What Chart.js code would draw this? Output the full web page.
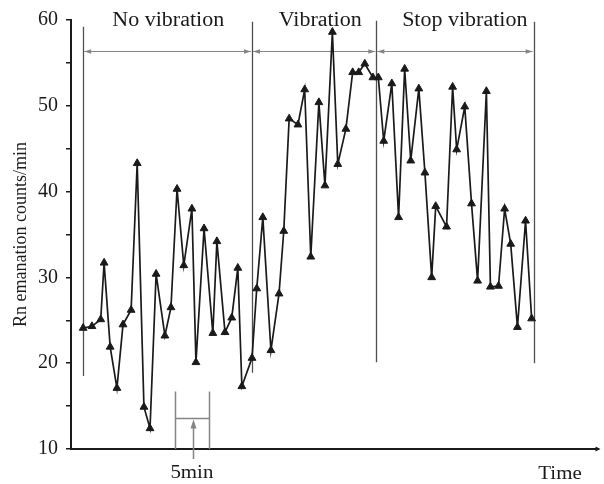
<!DOCTYPE html>
<html>
<head>
<meta charset="utf-8">
<script src="https://cdn.jsdelivr.net/npm/chart.js@4/dist/chart.umd.min.js"></script>
<style>
  body { margin: 0; background: #fff; }
  canvas { display: block; }
</style>
</head>
<body>
<canvas id="chart" width="604" height="484"></canvas>
<script>
// time of each count (minutes from the start)
const timeMin = [
  0.0, 1.3, 2.6, 3.1, 4.0, 5.0, 5.9, 7.1, 8.0, 9.0,
  9.9, 10.8, 12.1, 13.0, 13.9, 14.9, 16.1, 16.7, 17.9, 19.2,
  19.8, 21.0, 22.0, 22.9, 23.5, 25.0, 25.7, 26.6, 27.8, 29.0,
  29.7, 30.5, 31.8, 32.8, 33.7, 34.9, 35.8, 36.9, 37.7, 38.9,
  39.9, 40.8, 41.7, 42.9, 43.7, 44.5, 45.7, 46.7, 47.6, 48.5,
  49.7, 50.6, 51.6, 52.2, 53.8, 54.7, 55.3, 56.5, 57.5, 58.4,
  59.7, 60.3, 61.5, 62.4, 63.3, 64.3, 65.5, 66.4
];
// Rn emanation counts/min
const counts = [
  24.1, 24.3, 25.1, 31.7, 21.9, 17.1, 24.5, 26.2, 43.3, 14.9,
  12.4, 30.4, 23.2, 26.5, 40.3, 31.4, 38.0, 20.1, 35.7, 23.5,
  34.2, 23.6, 25.3, 31.1, 17.3, 20.6, 28.7, 37.0, 21.5, 28.1,
  35.4, 48.5, 47.8, 51.9, 32.4, 50.4, 40.7, 58.6, 43.2, 47.3,
  53.9, 53.9, 54.9, 53.3, 53.3, 45.9, 52.6, 37.0, 54.3, 43.6,
  52.0, 42.2, 30.0, 38.3, 35.9, 52.2, 44.9, 49.9, 38.6, 29.6,
  51.7, 28.9, 29.0, 38.0, 33.9, 24.2, 36.6, 25.2
];
const yTickLabels = [10, 20, 30, 40, 50, 60];

// phases of the experiment
const phaseNames = ['No vibration', 'Vibration', 'Stop vibration'];
const phaseLabelX = [12.6, 35.1, 56.5];
const phaseBounds = [0.0, 25.0, 43.4, 66.7];
const boundTop = [59.2, 59.8, 59.9, 59.8];
const boundBottom = [18.5, 18.9, 20.1, 20.0];
const phaseArrowY = 56.4;

// 5 minute scale bar
const barFrom = 13.6, barTo = 18.6;
const barTop = 16.7, barMid = 13.6;

const serif = "'Liberation Serif', 'Times New Roman', serif";
const ink = '#1a1a1a';
const gray = '#858585';

function arrowHead(ctx, x, y, dx, dy, len, half) {
  // tip at (x,y), pointing along (dx,dy)
  ctx.beginPath();
  ctx.moveTo(x, y);
  ctx.lineTo(x - dx * len - dy * half, y - dy * len - dx * half);
  ctx.lineTo(x - dx * len + dy * half, y - dy * len + dx * half);
  ctx.closePath();
  ctx.fill();
}

function stretchedText(ctx, text, x, y, size) {
  ctx.save();
  ctx.translate(x, y);
  ctx.scale(1.1, 1);
  ctx.font = size + 'px ' + serif;
  ctx.textAlign = 'center';
  ctx.textBaseline = 'alphabetic';
  ctx.fillStyle = ink;
  ctx.fillText(text, 0, 0);
  ctx.restore();
}

const notes = {
  id: 'notes',
  beforeDatasetsDraw(chart) {
    const ctx = chart.ctx;
    const xs = chart.scales.x, ys = chart.scales.y;
    ctx.save();
    // phase boundaries
    ctx.strokeStyle = '#505050';
    ctx.lineWidth = 1.3;
    phaseBounds.forEach((b, i) => {
      const px = Math.round(xs.getPixelForValue(b)) + 0.5;
      ctx.beginPath();
      ctx.moveTo(px, ys.getPixelForValue(boundTop[i]));
      ctx.lineTo(px, ys.getPixelForValue(boundBottom[i]));
      ctx.stroke();
    });
    // double arrows for each phase
    const ay = Math.round(ys.getPixelForValue(phaseArrowY)) + 0.5;
    ctx.strokeStyle = gray;
    ctx.fillStyle = gray;
    ctx.lineWidth = 1.2;
    for (let i = 0; i < phaseNames.length; i++) {
      const a = xs.getPixelForValue(phaseBounds[i]) + 1;
      const b = xs.getPixelForValue(phaseBounds[i + 1]) - 1;
      ctx.beginPath();
      ctx.moveTo(a, ay);
      ctx.lineTo(b, ay);
      ctx.stroke();
      arrowHead(ctx, a, ay, -1, 0, 7, 2.2);
      arrowHead(ctx, b, ay, 1, 0, 7, 2.2);
    }
    // 5 min scale bar
    const l = Math.round(xs.getPixelForValue(barFrom)) + 0.5;
    const r = Math.round(xs.getPixelForValue(barTo)) + 0.5;
    const t = ys.getPixelForValue(barTop);
    const base = ys.getPixelForValue(10);
    const m = Math.round(ys.getPixelForValue(barMid)) + 0.5;
    const c = Math.round((l + r) / 2) + 0.5;
    ctx.lineWidth = 1.5;
    ctx.beginPath();
    ctx.moveTo(l, t); ctx.lineTo(l, base);
    ctx.moveTo(r, t); ctx.lineTo(r, base);
    ctx.moveTo(l, m); ctx.lineTo(r, m);
    ctx.moveTo(c, base + 10); ctx.lineTo(c, m + 6);
    ctx.stroke();
    arrowHead(ctx, c, m + 1, 0, -1, 9, 3);
    ctx.restore();
  },
  afterDraw(chart) {
    const ctx = chart.ctx;
    const xs = chart.scales.x, ys = chart.scales.y;
    const area = chart.chartArea;
    // axis arrow
    ctx.save();
    ctx.fillStyle = ink;
    arrowHead(ctx, area.right + 2, area.bottom, 1, 0, 5, 2.5);
    ctx.restore();
    // phase names
    const top = ys.getPixelForValue(60);
    phaseNames.forEach((name, i) => {
      stretchedText(ctx, name, xs.getPixelForValue(phaseLabelX[i]), top + 6, 20);
    });
    // time axis notes
    stretchedText(ctx, '5min', xs.getPixelForValue((barFrom + barTo) / 2), area.bottom + 29, 19);
    stretchedText(ctx, 'Time', 560, area.bottom + 30, 19);
  }
};

new Chart(document.getElementById('chart'), {
  type: 'line',
  data: {
    datasets: [{
      data: timeMin.map((t, i) => ({ x: t, y: counts[i] })),
      borderColor: ink,
      borderWidth: 1.7,
      tension: 0,
      pointStyle: 'triangle',
      pointRadius: 4.5,
      pointBackgroundColor: ink,
      pointBorderColor: ink,
      pointBorderWidth: 1
    }]
  },
  options: {
    responsive: false,
    animation: false,
    events: [],
    layout: { padding: { top: 19, right: 2, left: 0, bottom: 0 } },
    plugins: { legend: { display: false }, tooltip: { enabled: false } },
    scales: {
      x: {
        type: 'linear',
        min: -1.8,
        max: 76.3,
        ticks: { display: false },
        grid: { display: true, drawOnChartArea: false, drawTicks: false },
        border: { display: true, color: ink, width: 2 },
        afterFit(s) { s.height = 35; }
      },
      y: {
        min: 10,
        max: 60,
        ticks: {
          stepSize: 5,
          autoSkip: false,
          padding: 8,
          color: ink,
          font: { family: serif, size: 20 },
          callback: v => yTickLabels.includes(v) ? String(v) : ''
        },
        grid: { drawOnChartArea: false, drawTicks: true, tickLength: 5, color: ink, lineWidth: 1.5 },
        border: { display: true, color: ink, width: 2 },
        title: {
          display: true,
          text: 'Rn emanation counts/min',
          color: ink,
          font: { family: serif, size: 18 },
          padding: { top: 10, bottom: 0 }
        },
        afterFit(s) { s.width = 71; }
      }
    }
  },
  plugins: [notes]
});
</script>
</body>
</html>
